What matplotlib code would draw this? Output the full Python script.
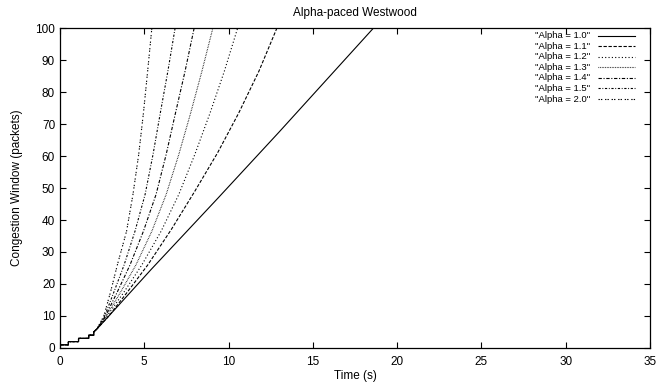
import numpy as np
import matplotlib
matplotlib.use("Agg")
import matplotlib.pyplot as plt

plt.rcParams['font.family'] = ['Liberation Sans', 'DejaVu Sans']

# === Data ===
# shared slow-start staircase at the beginning
start_t = [0.0, 0.5, 0.5, 1.1, 1.1, 1.7, 1.7, 2.0, 2.0]
start_cwnd = [1, 1, 2, 2, 3, 3, 4, 4, 5]

labels = ['"Alpha = 1.0"', '"Alpha = 1.1"', '"Alpha = 1.2"', '"Alpha = 1.3"',
          '"Alpha = 1.4"', '"Alpha = 1.5"', '"Alpha = 2.0"']

t_a10 = [2.2, 2.9, 5.4, 9.4, 13.0, 18.6]
w_a10 = [6, 10, 24.5, 47, 67.5, 100]
t_a11 = [2.2, 2.9, 4.0, 5.2, 6.6, 8.0, 9.35, 10.6, 11.8, 12.87]
w_a11 = [6, 10, 17.5, 25.9, 37, 49, 61, 73.4, 86.5, 100]
t_a12 = [2.2, 2.8, 3.8, 4.85, 6.0, 7.05, 8.0, 8.9, 9.75, 10.54]
w_a12 = [6, 10, 17.5, 25.9, 36.5, 48, 60.5, 73.4, 86.5, 100]
t_a13 = [2.2, 2.75, 3.6, 4.5, 5.45, 6.3, 7.05, 7.75, 8.42, 9.07]
w_a13 = [6, 10, 17.5, 25.9, 36.5, 48, 60.5, 73.4, 86.5, 100]
t_a14 = [2.2, 2.7, 3.4, 4.15, 4.95, 5.7, 6.3, 6.85, 7.42, 7.96]
w_a14 = [6, 10, 17.5, 25.9, 36.5, 48, 60.5, 73.4, 86.5, 100]
t_a15 = [2.2, 2.65, 3.2, 3.8, 4.45, 5.05, 5.52, 5.95, 6.4, 6.83]
w_a15 = [6, 10, 17.5, 25.9, 36.5, 48, 60.5, 73.4, 86.5, 100]
t_a20 = [2.2, 2.6, 3.0, 3.4, 3.95, 4.33, 4.67, 4.95, 5.2, 5.45]
w_a20 = [6, 10, 17.5, 25.9, 36.5, 48, 60.5, 73.4, 86.5, 100]

times = [t_a10, t_a11, t_a12, t_a13, t_a14, t_a15, t_a20]
cwnds = [w_a10, w_a11, w_a12, w_a13, w_a14, w_a15, w_a20]

# gnuplot-like monochrome line types
styles = [None, (3, 1.5), (1, 2), (0.6, 0.9), (3, 1.5, 1, 1.5),
          (2, 1.5, 0.8, 1.5), (1.2, 1, 1.2, 2.5)]

fig = plt.figure(figsize=(6.57, 3.87), dpi=100)
ax = fig.add_axes([0.0913, 0.1008, 0.898, 0.8268])

for i, (t, w) in enumerate(zip(times, cwnds)):
    line, = ax.plot(start_t + t, start_cwnd + w, color='black', lw=0.8)
    if styles[i] is not None:
        line.set_dashes(styles[i])
    # legend entry, gnuplot style (text then sample)
    yy = 0.976 - i * 0.033
    ax.text(0.898, yy, labels[i], transform=ax.transAxes, ha='right',
            va='center', fontsize=6.8)
    sample, = ax.plot([0.912, 0.975], [yy, yy], transform=ax.transAxes,
                      color='black', lw=0.8)
    if styles[i] is not None:
        sample.set_dashes(styles[i])

ax.set_xlim(0, 35)
ax.set_ylim(0, 100)
ax.set_xticks(np.arange(0, 36, 5))
ax.set_yticks(np.arange(0, 101, 10))
ax.tick_params(direction='in', length=4, width=0.8, labelsize=8.5,
               top=True, right=True)
ax.tick_params(axis='x', pad=6)
for s in ax.spines.values():
    s.set_linewidth(0.9)

ax.set_xlabel('Time (s)', fontsize=8.5, labelpad=1)
ax.set_ylabel('Congestion Window (packets)', fontsize=8.5, labelpad=9)
ax.set_title('Alpha-paced Westwood', fontsize=8.5, pad=9)

fig.savefig('out.png', dpi=100)
